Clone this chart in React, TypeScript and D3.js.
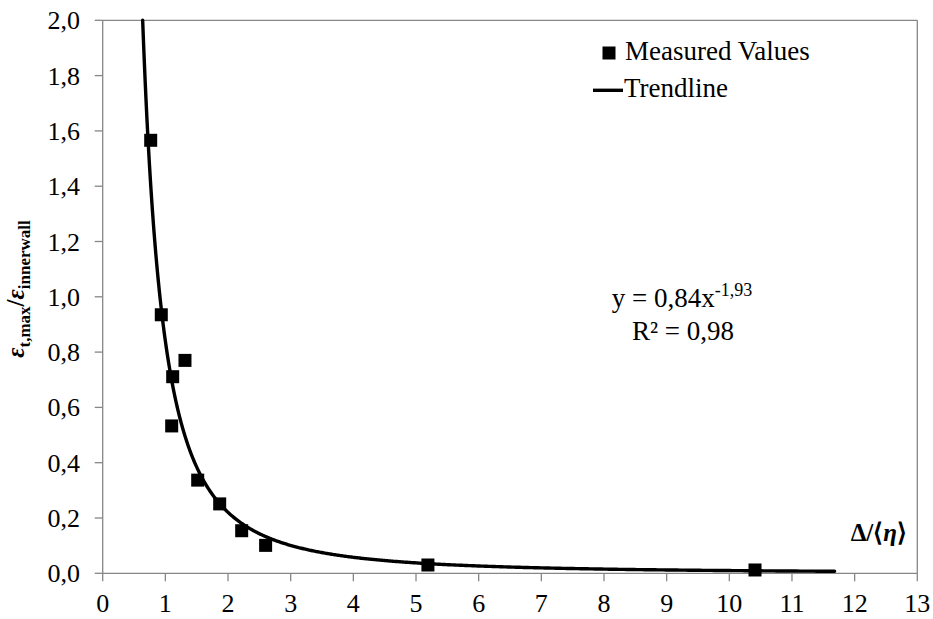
import React from "react";
import * as d3 from "d3";

// Measured strain ratio vs. normalised distance
const deltaOverEta: number[] = [0.766, 0.935, 1.313, 1.117, 1.101, 1.516, 1.867, 2.218, 2.6, 5.19, 10.41];
const strainRatio: number[] = [1.566, 0.935, 0.77, 0.711, 0.533, 0.337, 0.251, 0.154, 0.101, 0.03, 0.012];

// Power-law trendline y = a * x^b
const trendCoef = 0.84;
const trendExp = -1.93;
const trendXMax = 11.68;

const xTicks: number[] = [0, 1, 2, 3, 4, 5, 6, 7, 8, 9, 10, 11, 12, 13];
const yTicks: number[] = [0, 0.2, 0.4, 0.6, 0.8, 1.0, 1.2, 1.4, 1.6, 1.8, 2.0];

const W = 933;
const H = 619;
const left = 102.7;
const right = 917.3;
const top = 20.3;
const bottom = 573.3;

const serif = "Liberation Serif";
const axisGrey = "#868686";

export default function App() {
  const x = d3.scaleLinear().domain([0, 13]).range([left, right]);
  const y = d3.scaleLinear().domain([0, 2]).range([bottom, top]);
  const fmt = (v: number) => d3.format(".1f")(v).replace(".", ",");

  const xStart = Math.pow(2 / trendCoef, 1 / trendExp);
  const trendPts: [number, number][] = [];
  const n = 600;
  for (let i = 0; i <= n; i++) {
    // geometric sampling: denser near the steep start
    const t = i / n;
    const xv = xStart * Math.pow(trendXMax / xStart, t);
    trendPts.push([xv, trendCoef * Math.pow(xv, trendExp)]);
  }
  const line = d3
    .line<[number, number]>()
    .x((d) => x(d[0]))
    .y((d) => y(d[1]));

  const sq = 13;
  const txt = { fontFamily: serif } as React.CSSProperties;

  return (
    <svg width={W} height={H} style={{ position: "absolute", left: 0, top: 0, background: "#fff" }}>
      <rect x={0} y={0} width={W} height={H} fill="#fff" />
      {/* plot frame */}
      <line x1={left} x2={right} y1={top} y2={top} stroke={axisGrey} strokeWidth={1.3} />
      <line x1={right} x2={right} y1={top} y2={bottom} stroke={axisGrey} strokeWidth={1.3} />
      <line x1={left} x2={left} y1={top} y2={bottom} stroke={axisGrey} strokeWidth={1.3} />
      <line x1={left} x2={right} y1={bottom} y2={bottom} stroke={axisGrey} strokeWidth={1.3} />

      {/* y axis ticks and labels */}
      {yTicks.map((v) => (
        <g key={"y" + v}>
          <line x1={left - 8} x2={left} y1={y(v)} y2={y(v)} stroke={axisGrey} strokeWidth={1.3} />
          <text x={80} y={y(v) + 9} textAnchor="end" fontSize={26} fill="#000" style={txt}>
            {fmt(v)}
          </text>
        </g>
      ))}

      {/* x axis ticks and labels */}
      {xTicks.map((v) => (
        <g key={"x" + v}>
          <line x1={x(v)} x2={x(v)} y1={bottom} y2={bottom + 8} stroke={axisGrey} strokeWidth={1.3} />
          <text x={x(v)} y={612} textAnchor="middle" fontSize={26} fill="#000" style={txt}>
            {v}
          </text>
        </g>
      ))}

      {/* trendline */}
      <path d={line(trendPts) || ""} fill="none" stroke="#000" strokeWidth={3.4} strokeLinecap="round" />

      {/* measured values */}
      {deltaOverEta.map((xv, i) => (
        <rect
          key={"p" + i}
          x={x(xv) - sq / 2}
          y={y(strainRatio[i]) - sq / 2}
          width={sq}
          height={sq}
          fill="#000"
        />
      ))}

      {/* legend */}
      <rect x={602.5} y={46.5} width={13} height={13} fill="#000" />
      <text x={625} y={60} fontSize={27} fill="#000" style={txt}>
        Measured Values
      </text>
      <line x1={593} x2={623} y1={90.3} y2={90.3} stroke="#000" strokeWidth={3.4} />
      <text x={624} y={97} fontSize={27} fill="#000" style={txt}>
        Trendline
      </text>

      {/* trendline equation */}
      <text x={682} y={307} textAnchor="middle" fontSize={27} fill="#000" style={txt}>
        <tspan>y = 0,84x</tspan>
        <tspan dy={-11} fontSize={18}>
          -1,93
        </tspan>
      </text>
      <text x={683} y={340} textAnchor="middle" fontSize={27} fill="#000" style={txt}>
        R² = 0,98
      </text>

      {/* x axis title */}
      <text x={907} y={541} textAnchor="end" fontSize={25} fontWeight="bold" fill="#000" style={txt}>
        <tspan>Δ/⟨</tspan>
        <tspan fontStyle="italic">η</tspan>
        <tspan>⟩</tspan>
      </text>

      {/* y axis title */}
      <text
        transform="translate(24,289) rotate(-90)"
        textAnchor="middle"
        fontSize={25}
        fontWeight="bold"
        fill="#000"
        style={txt}
      >
        <tspan fontStyle="italic">ε</tspan>
        <tspan fontSize={17} dy={6}>t,max</tspan>
        <tspan dy={-6}>/</tspan>
        <tspan fontStyle="italic">ε</tspan>
        <tspan fontSize={17} dy={6}>innerwall</tspan>
      </text>
    </svg>
  );
}
